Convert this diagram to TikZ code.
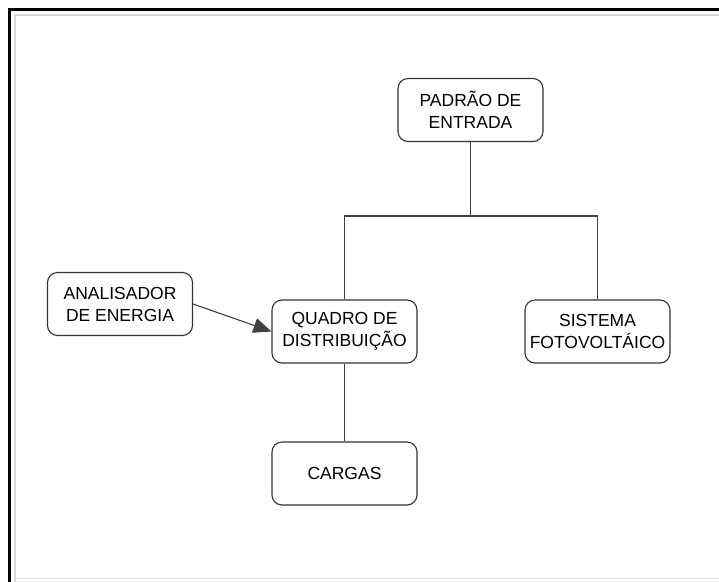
\documentclass[tikz,border=0pt]{standalone}
\usepackage{fontspec}
\setmainfont{Liberation Sans}
\usetikzlibrary{arrows.meta}
\begin{document}
\begin{tikzpicture}[x=1pt,y=-1pt,
  box/.style={draw=black!80,line width=1.1pt,rounded corners=10pt,minimum width=145pt,minimum height=63pt,align=center,font=\fontsize{17.5}{22}\selectfont,inner sep=0pt},
  conn/.style={draw=black!75,line width=1.1pt}]
\useasboundingbox (0,0) rectangle (719,581);
\draw[black!15,line width=1.5pt] (15,730) -- (15,15) -- (730,15);
\draw[black!12,line width=1pt] (15,578.5) -- (730,578.5);
\draw[black,line width=2.6pt] (9.5,590) -- (9.5,9.5) -- (730,9.5);
\node[box] (p) at (470.5,110) {PADRÃO DE\\ENTRADA};
\node[box] (a) at (120,304) {ANALISADOR\\DE ENERGIA};
\node[box] (q) at (344.5,331.5) {QUADRO DE\\DISTRIBUIÇÃO};
\node[box] (s) at (597.5,331.5) {SISTEMA\\FOTOVOLTÁICO};
\node[box] (c) at (344.5,473.5) {CARGAS};
\coordinate (j) at (470.5,216);
\draw[conn] (p.south) -- (j);
\draw[conn] (q.north) |- (j);
\draw[conn] (j) -| (s.north);
\draw[conn] (q.south) -- (c.north);
\draw[conn,-{Triangle[length=18pt,width=15pt]}] (a.east) -- (q.west);
\end{tikzpicture}
\end{document}
